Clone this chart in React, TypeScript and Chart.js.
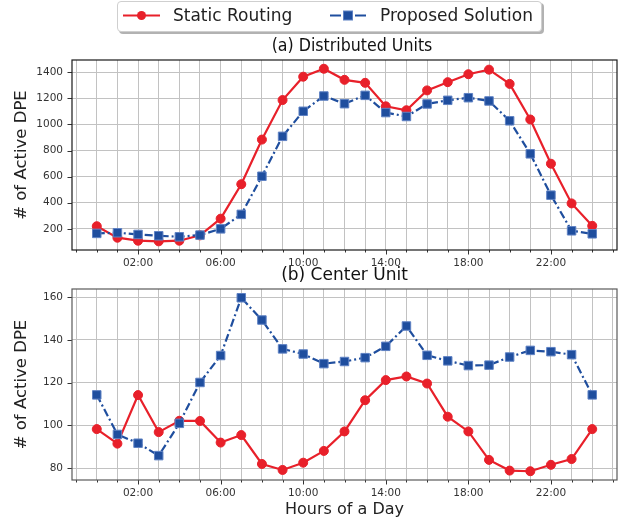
import React, { useEffect, useRef } from 'react';
import { Chart, registerables } from 'chart.js';

Chart.register(...registerables);

// ---------- data ----------
const hours = [0, 1, 2, 3, 4, 5, 6, 7, 8, 9, 10, 11, 12, 13, 14, 15, 16, 17, 18, 19, 20, 21, 22, 23, 24];
const minorTickHours = [-1, 0, 1, 2, 3, 4, 5, 6, 7, 8, 9, 10, 11, 12, 13, 14, 15, 16, 17, 18, 19, 20, 21, 22, 23, 24, 25];
const majorTickHours = [2, 6, 10, 14, 18, 22];
const xTickLabels = ['02:00', '06:00', '10:00', '14:00', '18:00', '22:00'];

const seriesNames = ['Static Routing', 'Proposed Solution'];
const panelTitles = ['(a) Distributed Units', '(b) Center Unit'];
const yTitle = '# of Active DPE';
const xTitle = 'Hours of a Day';

const duStatic = [220, 132, 109, 104, 109, 150, 278, 542, 884, 1187, 1366, 1427, 1342, 1319, 1139, 1109, 1261, 1324, 1385, 1420, 1311, 1038, 699, 395, 223];
const duProposed = [165, 170, 157, 147, 139, 152, 200, 311, 603, 909, 1101, 1218, 1159, 1223, 1091, 1061, 1157, 1185, 1205, 1180, 1028, 775, 458, 185, 162];
const duTicks = [200, 400, 600, 800, 1000, 1200, 1400];

const cuStatic = [98.3, 91.5, 114.2, 96.9, 102.2, 102.1, 92.0, 95.5, 82.0, 79.2, 82.6, 88.1, 97.2, 111.8, 121.2, 122.9, 119.6, 104.1, 97.2, 83.9, 78.9, 78.6, 81.6, 84.3, 98.3];
const cuProposed = [114.3, 95.8, 91.7, 85.9, 101.0, 120.1, 132.7, 159.7, 149.3, 135.8, 133.4, 128.9, 129.9, 131.7, 137.0, 146.5, 132.8, 130.2, 128.0, 128.2, 132.0, 135.1, 134.5, 133.1, 114.3];
const cuTicks = [80, 100, 120, 140, 160];

// ---------- styles ----------
const RED = '#e8202a';
const BLUE = '#1f4e9e';
const BLUE_EDGE = '#5f82c4';
const GRID = '#c2c2c2';
const FAMILY = "'DejaVu Sans', 'Noto Sans', sans-serif";
const TEXT = '#222222';

const panelPlugin = {
  id: 'panelDeco',
  afterDraw(chart: any, _args: any, opts: any) {
    const { ctx, chartArea: a, scales } = chart;
    ctx.save();
    ctx.strokeStyle = opts.tickColor;
    ctx.lineWidth = 1;
    const xs = scales.x;
    for (const h of minorTickHours) {
      const px = Math.round(xs.getPixelForValue(h)) + 0.5;
      const len = majorTickHours.includes(h) ? 4.5 : 2.5;
      ctx.beginPath();
      ctx.moveTo(px, a.bottom);
      ctx.lineTo(px, a.bottom + len);
      ctx.stroke();
    }
    const ys = scales.y;
    for (const t of opts.yTicks) {
      const py = Math.round(ys.getPixelForValue(t)) + 0.5;
      ctx.beginPath();
      ctx.moveTo(a.left, py);
      ctx.lineTo(a.left - 4.5, py);
      ctx.stroke();
    }
    ctx.strokeStyle = opts.frameColor;
    ctx.lineWidth = 1.2;
    ctx.strokeRect(a.left, a.top, a.right - a.left, a.bottom - a.top);

    ctx.fillStyle = '#111';
    ctx.font = `${opts.titleSize}px ${FAMILY}`;
    ctx.textAlign = 'center';
    ctx.textBaseline = 'middle';
    ctx.translate(opts.titleX, opts.titleY);
    ctx.scale(opts.titleStretch, 1);
    ctx.fillText(opts.title, 0, 0);
    ctx.restore();
  },
};

function makeConfig(
  staticData: number[],
  proposedData: number[],
  yMin: number,
  yMax: number,
  yTicks: number[],
  cfg: any
): any {
  return {
    type: 'line',
    data: {
      datasets: [
        {
          label: seriesNames[0],
          data: hours.map((h, i) => ({ x: h, y: staticData[i] })),
          borderColor: RED,
          backgroundColor: RED,
          borderWidth: 2.2,
          pointStyle: 'circle',
          pointRadius: 4.5,
          pointBorderWidth: 1,
          pointBorderColor: RED,
          pointBackgroundColor: RED,
          order: 1,
          tension: 0,
        },
        {
          label: seriesNames[1],
          data: hours.map((h, i) => ({ x: h, y: proposedData[i] })),
          borderColor: BLUE,
          backgroundColor: BLUE,
          borderWidth: 2.2,
          borderDash: [8, 3, 2, 3],
          pointStyle: 'rect',
          pointRadius: 6,
          pointBorderWidth: 1,
          pointBorderColor: BLUE_EDGE,
          pointBackgroundColor: BLUE,
          order: 0,
          tension: 0,
        },
      ],
    },
    options: {
      responsive: false,
      animation: false,
      events: [],
      layout: { padding: { top: cfg.padTop, right: 13, left: 0, bottom: 0 } },
      plugins: {
        legend: { display: false },
        tooltip: { enabled: false },
        panelDeco: {
          yTicks,
          tickColor: '#333',
          frameColor: cfg.frameColor,
          title: cfg.title,
          titleX: cfg.titleX,
          titleY: cfg.titleY,
          titleSize: cfg.titleSize,
          titleStretch: cfg.titleStretch,
        },
      },
      scales: {
        x: {
          type: 'linear',
          min: -1.2,
          max: 25.2,
          afterBuildTicks: (s: any) => {
            s.ticks = minorTickHours.map((v) => ({ value: v }));
          },
          afterFit: (s: any) => {
            s.height = cfg.xHeight;
            s.paddingLeft = 0;
            s.paddingRight = 0;
          },
          grid: { color: GRID, lineWidth: 1, drawTicks: false },
          border: { display: false },
          ticks: {
            padding: 7,
            autoSkip: false,
            maxRotation: 0,
            minRotation: 0,
            color: '#333',
            font: { family: FAMILY, size: 10.5 },
            callback: (v: any) => {
              const i = majorTickHours.indexOf(Number(v));
              return i >= 0 ? xTickLabels[i] : '';
            },
          },
          title: cfg.showXTitle
            ? {
                display: true,
                text: xTitle,
                color: TEXT,
                font: { family: FAMILY, size: 16 },
                padding: { top: 0, bottom: 4 },
              }
            : { display: false },
        },
        y: {
          type: 'linear',
          min: yMin,
          max: yMax,
          afterBuildTicks: (s: any) => {
            s.ticks = yTicks.map((v) => ({ value: v }));
          },
          afterFit: (s: any) => {
            s.width = 72;
            s.paddingTop = 0;
            s.paddingBottom = 0;
          },
          grid: { color: GRID, lineWidth: 1, drawTicks: false },
          border: { display: false },
          ticks: {
            padding: 9,
            color: '#333',
            font: { family: FAMILY, size: 10.5 },
            callback: (v: any) => String(v),
          },
          title: {
            display: true,
            text: yTitle,
            color: TEXT,
            font: { family: FAMILY, size: 16.5 },
            padding: { top: 12, bottom: 0 },
          },
        },
      },
    },
    plugins: [panelPlugin],
  };
}

function LegendSample({ kind }: { kind: 'red' | 'blue' }) {
  return (
    <svg width={40} height={28} style={{ position: 'absolute', left: 0, top: 0 }}>
      {kind === 'red' ? (
        <>
          <line x1={0} y1={13.5} x2={37} y2={13.5} stroke={RED} strokeWidth={2} />
          <circle cx={18.5} cy={13.5} r={4.5} fill={RED} />
        </>
      ) : (
        <>
          <line x1={0} y1={13.5} x2={11} y2={13.5} stroke={BLUE} strokeWidth={2} />
          <line x1={25} y1={13.5} x2={36} y2={13.5} stroke={BLUE} strokeWidth={2} />
          <rect x={13.5} y={9} width={9} height={9} fill={BLUE} stroke={BLUE_EDGE} strokeWidth={1} />
        </>
      )}
    </svg>
  );
}

export default function App() {
  const topRef = useRef<HTMLCanvasElement>(null);
  const botRef = useRef<HTMLCanvasElement>(null);

  useEffect(() => {
    const c1 = new Chart(
      topRef.current as HTMLCanvasElement,
      makeConfig(duStatic, duProposed, 37.8, 1494, duTicks, {
        padTop: 60,
        xHeight: 20,
        frameColor: '#1a1a1a',
        title: panelTitles[0],
        titleX: 352,
        titleY: 46,
        titleSize: 18,
        titleStretch: 0.88,
        showXTitle: false,
      })
    );
    const c2 = new Chart(
      botRef.current as HTMLCanvasElement,
      makeConfig(cuStatic, cuProposed, 74.5, 163.8, cuTicks, {
        padTop: 29,
        xHeight: 43,
        frameColor: '#5a5a5a',
        title: panelTitles[1],
        titleX: 344.5,
        titleY: 16,
        titleSize: 17,
        titleStretch: 1,
        showXTitle: true,
      })
    );
    return () => {
      c1.destroy();
      c2.destroy();
    };
  }, []);

  const textStyle: React.CSSProperties = {
    position: 'absolute',
    top: -2,
    lineHeight: '31px',
    fontFamily: FAMILY,
    fontSize: 17,
    color: TEXT,
    whiteSpace: 'nowrap',
  };

  return (
    <div style={{ position: 'absolute', left: 0, top: 0, width: 630, height: 523, background: '#fff', overflow: 'hidden' }}>
      <canvas ref={topRef} width={630} height={270} style={{ position: 'absolute', left: 0, top: 0, display: 'block' }} />
      <canvas ref={botRef} width={630} height={263} style={{ position: 'absolute', left: 0, top: 260, display: 'block' }} />
      <div
        style={{
          position: 'absolute',
          left: 117,
          top: 1,
          width: 425,
          height: 31,
          boxSizing: 'border-box',
          border: '1px solid #cfcfcf',
          borderRadius: 4,
          background: '#fff',
          boxShadow: '2px 2px 0 rgba(0,0,0,0.3)',
        }}
      >
        <div style={{ position: 'absolute', left: 5, top: 0, width: 40, height: 28 }}>
          <LegendSample kind="red" />
        </div>
        <span style={{ ...textStyle, left: 55 }}>{seriesNames[0]}</span>
        <div style={{ position: 'absolute', left: 212, top: 0, width: 40, height: 28 }}>
          <LegendSample kind="blue" />
        </div>
        <span style={{ ...textStyle, left: 262 }}>{seriesNames[1]}</span>
      </div>
    </div>
  );
}
